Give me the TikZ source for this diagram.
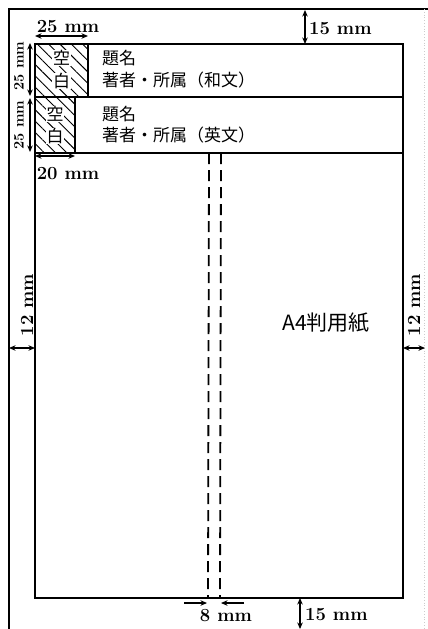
\documentclass[tikz,border=0pt]{standalone}
\usepackage{fontspec}
\newfontfamily\cjk{Noto Sans CJK JP}
\usetikzlibrary{arrows.meta,patterns.meta}
\tikzset{
  pageline/.style={line width=1.7pt, line join=miter},
  dimarrow/.style={line width=1.2pt, {Stealth[length=6.5pt,width=5.5pt]}-{Stealth[length=6.5pt,width=5.5pt]}},
  onearrow/.style={line width=1.2pt, -{Stealth[length=6.5pt,width=5.5pt]}},
  dimlabel/.style={font=\fontsize{18.5}{18.5}\selectfont\bfseries, inner sep=0pt},
  smalldim/.style={font=\fontsize{14.5}{14.5}\selectfont\bfseries, inner sep=0pt, rotate=90},
  jlabel/.style={font=\cjk\fontsize{17}{17}\selectfont, inner sep=0pt, anchor=west},
  blanktext/.style={font=\cjk\fontsize{17}{17}\selectfont, inner sep=0.6pt, fill=white},
  hatch/.style={pattern={Lines[angle=-45,distance=8pt,line width=0.9pt]}},
  gutter/.style={line width=1.8pt, dash pattern=on 11pt off 6pt}
}
\begin{document}
\begin{tikzpicture}[x=1pt,y=-1pt]
\useasboundingbox (0,0) rectangle (428,629);
% outer sheet
\draw[line width=1.4pt] (9,629) -- (9,9) -- (428,9);
\draw[line width=0.8pt, gray!40, dotted] (424,9) -- (424,629);
% inner coordinates
\coordinate (TL) at (35,44);
\coordinate (TR) at (403,44);
\coordinate (BL) at (35,598);
\coordinate (BR) at (403,598);
\coordinate (T1L) at (35,97);
\coordinate (T1R) at (403,97);
\coordinate (T2L) at (35,153);
\coordinate (T2R) at (403,153);
% hatched blanks
\path[hatch] (35,44) rectangle (88,97);
\path[hatch] (35,97) rectangle (75,153);
\draw[pageline] (35,44) rectangle (88,97);
\draw[pageline] (35,97) rectangle (75,153);
\node[blanktext] (k1) at (61.5,58) {空};
\node[blanktext] (h1) at (61.5,81) {白};
\node[blanktext] (k2) at (55,114) {空};
\node[blanktext] (h2) at (55,136) {白};
% inner page
\draw[pageline] (TL) -- (TR) -- (BR) -- (BL) -- cycle;
\draw[pageline] (T1L) -- (T1R);
\draw[pageline] (T2L) -- (T2R);
% title texts
\node[jlabel] (t1) at (102,58) {題名};
\node[jlabel] (a1) at (102,80) {著者・所属（和文）};
\node[jlabel] (t2) at (102,114) {題名};
\node[jlabel] (a2) at (102,135) {著者・所属（英文）};
% gutter
\coordinate (g1t) at (209,153);
\coordinate (g1b) at (208,598);
\coordinate (g2t) at (221,153);
\coordinate (g2b) at (220,598);
\draw[gutter] (g1t) -- (g1b);
\draw[gutter] (g2t) -- (g2b);
% A4 label
\node[font=\cjk\fontsize{21}{21}\selectfont, inner sep=0pt] (a4) at (326,323) {A4判用紙};
% dimension: 25 mm top
\coordinate (d25a) at (35,36);
\coordinate (d25b) at (88,36);
\draw[dimarrow] (d25a) -- (d25b);
\node[dimlabel] (l25t) at (68,27) {25 mm};
% dimension: 25 mm left
\coordinate (v1a) at (30,43);
\coordinate (v1b) at (30,96);
\coordinate (v2a) at (30,98);
\coordinate (v2b) at (30,152);
\draw[dimarrow] (v1a) -- (v1b);
\draw[dimarrow] (v2a) -- (v2b);
\node[smalldim] (l25l1) at (19,66) {25 mm};
\node[smalldim] (l25l2) at (19,125) {25 mm};
% dimension: 20 mm
\coordinate (d20a) at (35,156);
\coordinate (d20b) at (75,156);
\draw[dimarrow] (d20a) -- (d20b);
\node[dimlabel] (l20) at (68,174) {20 mm};
% dimension: 15 mm top
\coordinate (d15a) at (305,10);
\coordinate (d15b) at (305,44);
\draw[dimarrow] (d15a) -- (d15b);
\node[dimlabel, anchor=west] (l15t) at (309,28.5) {15 mm};
% dimension: 15 mm bottom
\coordinate (d15c) at (300,598);
\coordinate (d15d) at (300,629);
\draw[dimarrow] (d15c) -- (d15d);
\node[dimlabel, anchor=west] (l15b) at (305,615) {15 mm};
% dimension: 8 mm
\coordinate (e1) at (184,603);
\coordinate (e2) at (207,603);
\coordinate (e3) at (244,603);
\coordinate (e4) at (221,603);
\draw[onearrow] (e1) -- (e2);
\draw[onearrow] (e3) -- (e4);
\node[dimlabel] (l8) at (226,616) {8 mm};
% dimension: 12 mm left
\coordinate (m1) at (9,348);
\coordinate (m2) at (35,348);
\draw[dimarrow] (m1) -- (m2);
\node[dimlabel, rotate=90] (l12l) at (27,305) {12 mm};
% dimension: 12 mm right
\coordinate (m3) at (403,348);
\coordinate (m4) at (425,348);
\draw[dimarrow] (m3) -- (m4);
\node[dimlabel, rotate=90] (l12r) at (414,305) {12 mm};
\end{tikzpicture}
\end{document}
